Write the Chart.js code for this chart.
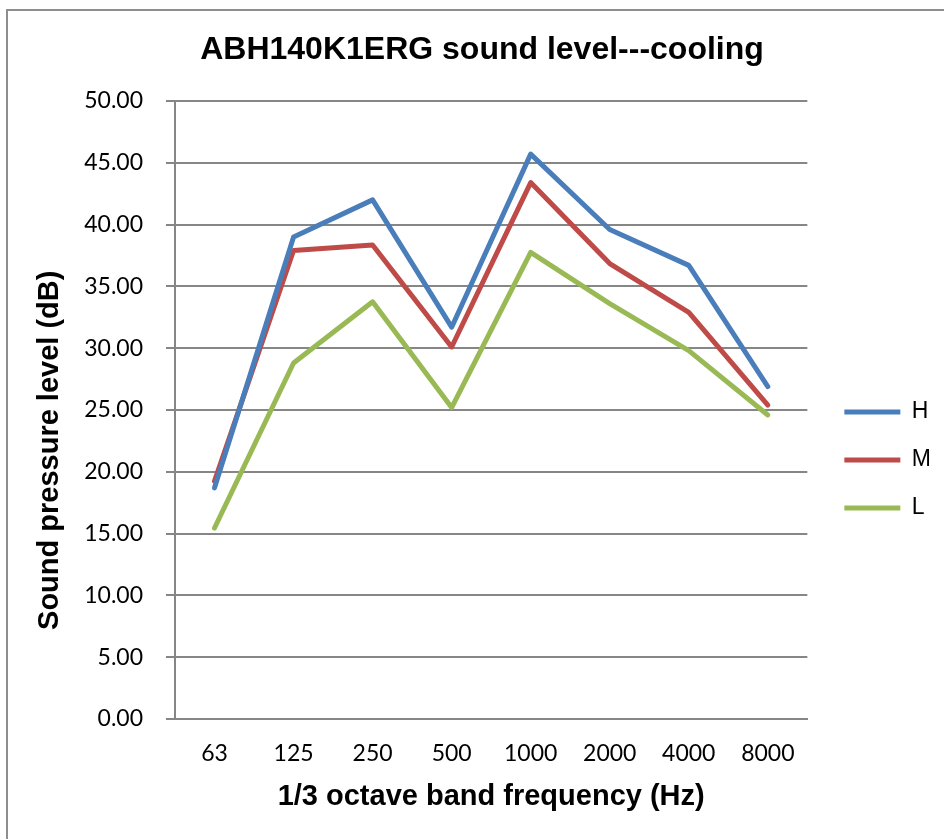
<!DOCTYPE html>
<html>
<head>
<meta charset="utf-8">
<script src="https://cdn.jsdelivr.net/npm/chart.js@4.4.1/dist/chart.umd.min.js"></script>
<style>
  html, body { margin: 0; padding: 0; background: #fff; overflow: hidden; width: 944px; height: 839px; }
  #frame { position: absolute; left: 6px; top: 9px; width: 960px; height: 860px; border: 2px solid #8e8e8e; }
  #grafico { position: absolute; left: 8px; top: 11px; }
</style>
</head>
<body>
<div id="frame"></div>
<canvas id="grafico" width="948" height="828"></canvas>
<script>
  // Bandas de frecuencia (eje X)
  var bandas = ['63', '125', '250', '500', '1000', '2000', '4000', '8000'];

  // Nivel de presión sonora por velocidad del ventilador (dB)
  var nivelH = [18.7, 39.0, 42.0, 31.7, 45.7, 39.6, 36.7, 26.9];
  var nivelM = [19.25, 37.9, 38.35, 30.1, 43.4, 36.85, 32.9, 25.4];
  var nivelL = [15.45, 28.8, 33.75, 25.2, 37.75, 33.6, 29.8, 24.6];

  // Marcas del eje Y
  var ejeYMin = 0;
  var ejeYMax = 50;
  var ejeYPaso = 5;

  var colorRejilla = '#868686';

  function serie(nombre, datos, color) {
    return {
      label: nombre,
      data: datos,
      borderColor: color,
      backgroundColor: color,
      borderWidth: 5,
      borderCapStyle: 'round',
      borderJoinStyle: 'round',
      pointRadius: 0,
      pointHoverRadius: 0,
      pointStyle: 'line',
      tension: 0,
      fill: false
    };
  }

  // Acerca la leyenda al texto, como en el original
  var moverLeyenda = {
    id: 'moverLeyenda',
    afterLayout: function(chart) {
      chart.legend.left += 12;
      chart.legend.right += 12;
    }
  };

  Chart.defaults.font.family = 'Lato';
  Chart.defaults.color = '#000';

  var ctx = document.getElementById('grafico').getContext('2d');
  new Chart(ctx, {
    type: 'line',
    data: {
      labels: bandas,
      datasets: [
        serie('H', nivelH, '#4a7ebb'),
        serie('M', nivelM, '#be4b48'),
        serie('L', nivelL, '#98b954')
      ]
    },
    plugins: [moverLeyenda],
    options: {
      responsive: false,
      animation: false,
      devicePixelRatio: 1,
      layout: { padding: { left: 27, right: 27, top: 0, bottom: 0 } },
      plugins: {
        title: {
          display: true,
          text: 'ABH140K1ERG sound level---cooling',
          color: '#000',
          font: { family: 'Liberation Sans', size: 32, weight: 'bold', lineHeight: 1.2 },
          padding: { top: 20, bottom: 31.6 }
        },
        legend: {
          position: 'right',
          align: 'center',
          title: { display: true, text: ' ', font: { size: 10, lineHeight: 1.2 }, padding: 29 },
          labels: {
            usePointStyle: true,
            pointStyleWidth: 56,
            color: '#000',
            padding: 25,
            font: { family: 'Liberation Sans', size: 23 }
          }
        },
        tooltip: { enabled: false }
      },
      scales: {
        x: {
          offset: true,
          grid: { display: false, drawTicks: false },
          border: { display: true, color: colorRejilla, width: 2 },
          ticks: { padding: 21, font: { size: 23 }, color: '#000' },
          title: {
            display: true,
            text: '1/3 octave band frequency (Hz)',
            color: '#000',
            font: { family: 'Liberation Sans', size: 29, weight: 'bold', lineHeight: 1.2 },
            padding: { top: 0, bottom: 25 }
          },
          afterFit: function(escala) { escala.height = 120; }
        },
        y: {
          min: ejeYMin,
          max: ejeYMax,
          grid: { color: colorRejilla, lineWidth: 2, drawTicks: true, tickLength: 9 },
          border: { display: true, color: colorRejilla, width: 2 },
          ticks: {
            stepSize: ejeYPaso,
            padding: 23,
            font: { size: 23 },
            color: '#000',
            callback: function(valor) { return Number(valor).toFixed(2); }
          },
          title: {
            display: true,
            text: 'Sound pressure level (dB)          ',
            color: '#000',
            font: { family: 'Liberation Sans', size: 29, weight: 'bold', lineHeight: 1.0 },
            padding: { top: 0, bottom: 0 }
          },
          afterFit: function(escala) { escala.width = 140; }
        }
      }
    }
  });
</script>
</body>
</html>
